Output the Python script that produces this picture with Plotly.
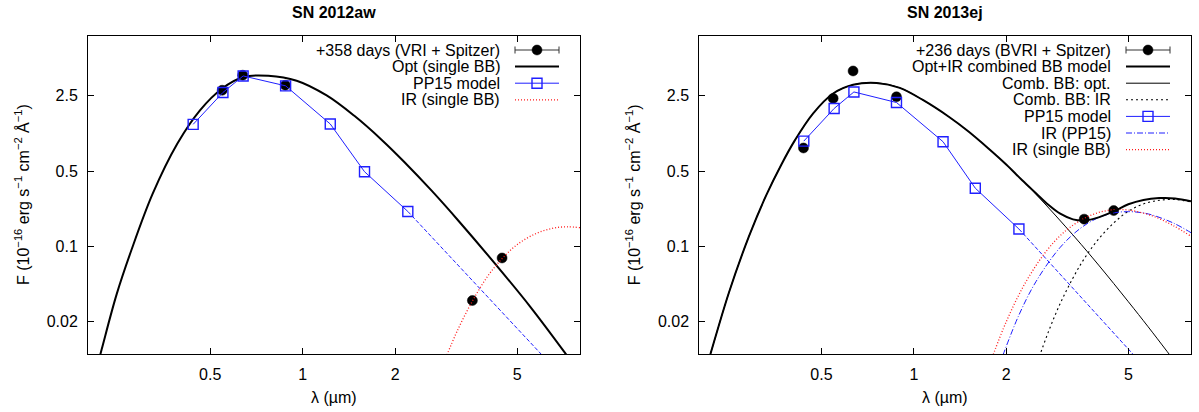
import math
import plotly.graph_objects as go

# ---------------- SN 2012aw (+358 d) ----------------
aw_obs_wl = [0.547, 0.638, 0.878, 3.57, 4.46]
aw_obs_flux = [2.82, 3.89, 3.14, 0.0314, 0.078]

aw_pp15_wl = [0.44, 0.55, 0.64, 0.88, 1.23, 1.59, 2.2]
aw_pp15_flux = [1.36, 2.69, 3.83, 3.10, 1.37, 0.494, 0.211]
aw_pp15_ext_wl = [2.2, 8.0]
aw_pp15_ext_flux = [0.211, 0.0041]

aw_opt_wl = [0.2, 0.2215, 0.248, 0.277, 0.3246, 0.391, 0.463, 0.547, 0.641, 0.773, 0.956,
             1.197, 1.47, 1.81, 2.147, 2.63, 3.21, 4.27, 5.52, 7.14, 7.96]
aw_opt_flux = [0.0036, 0.011, 0.036, 0.0925, 0.307, 0.903, 1.837, 2.93, 3.747, 3.85, 3.46,
               2.525, 1.64, 0.975, 0.605, 0.329, 0.174, 0.0669, 0.0273, 0.0103, 0.0067]

aw_ir_wl = [2.9, 3.2, 3.57, 4.0, 4.46, 5.0, 5.7, 6.5, 7.25, 8.0]
aw_ir_flux = [0.0087, 0.0168, 0.031, 0.0526, 0.077, 0.104, 0.130, 0.147, 0.152, 0.149]

# ---------------- SN 2013ej (+236 d) ----------------
ej_obs_wl = [0.437, 0.546, 0.634, 0.878, 3.59, 4.48]
ej_obs_flux = [0.82, 2.37, 4.26, 2.45, 0.179, 0.215]

ej_pp15_wl = [0.438, 0.55, 0.638, 0.878, 1.245, 1.586, 2.20]
ej_pp15_flux = [0.95, 1.91, 2.72, 2.17, 0.938, 0.347, 0.145]
ej_pp15_ext_wl = [2.2, 8.0]
ej_pp15_ext_flux = [0.145, 0.00255]

ej_opt_wl = [0.212, 0.2177, 0.25, 0.29, 0.33, 0.37, 0.41, 0.47, 0.546, 0.634, 0.756,
             0.90, 1.07, 1.3, 1.5, 1.75, 2.0, 2.51, 3.345, 4.0, 5.0, 5.8, 6.68, 8.0]
ej_opt_flux = [0.0078, 0.0101, 0.0375, 0.123, 0.296, 0.574, 0.97, 1.72, 2.63, 3.17, 3.30,
               2.97, 2.29, 1.60, 1.18, 0.813, 0.575, 0.301, 0.122, 0.067, 0.0306, 0.0179, 0.0106, 0.0054]

ej_comb_wl = [0.212, 0.2177, 0.25, 0.29, 0.33, 0.37, 0.41, 0.47, 0.546, 0.634, 0.756,
              0.90, 1.07, 1.3, 1.5, 1.75, 2.0, 2.25, 2.5, 2.75, 3.0, 3.3, 3.6, 4.0, 4.5,
              5.0, 5.6, 6.3, 7.1, 8.0]
ej_comb_flux = [0.0078, 0.0101, 0.0375, 0.123, 0.296, 0.574, 0.97, 1.72, 2.63, 3.17, 3.30,
                2.97, 2.29, 1.60, 1.18, 0.813, 0.577, 0.414, 0.312, 0.242, 0.201, 0.178, 0.174,
                0.186, 0.213, 0.246, 0.270, 0.281, 0.279, 0.262]

ej_ircomb_wl = [2.5, 2.75, 3.0, 3.3, 3.6, 4.0, 4.5, 5.0, 5.6, 6.3, 7.1, 8.0]
ej_ircomb_flux = [0.0077, 0.0163, 0.0295, 0.0509, 0.0776, 0.117, 0.167, 0.212, 0.248,
                  0.268, 0.272, 0.259]

ej_irpp15_wl = [1.95, 2.2, 2.5, 3.0, 3.5, 4.0, 4.5, 5.0, 5.5, 6.0, 7.0, 8.0]
ej_irpp15_flux = [0.0097, 0.023, 0.047, 0.098, 0.148, 0.185, 0.205, 0.21, 0.206, 0.195, 0.165, 0.134]

ej_irbb_wl = [1.8, 2.0, 2.3, 2.7, 3.1, 3.59, 4.0, 4.48, 5.0, 6.0, 7.0, 8.0]
ej_irbb_flux = [0.0093, 0.0199, 0.045, 0.090, 0.137, 0.182, 0.206, 0.219, 0.2175, 0.1915, 0.156, 0.124]

# ticks
x_ticks = [0.5, 1, 2, 5]
x_ticktext = ["0.5", "1", "2", "5"]
y_ticks = [0.02, 0.1, 0.5, 2.5]
y_ticktext = ["0.02", "0.1", "0.5", "2.5"]

titles = ["SN 2012aw", "SN 2013ej"]
legend_aw = ["+358 days (VRI + Spitzer)", "Opt (single BB)", "PP15 model", "IR (single BB)"]
legend_ej = ["+236 days (BVRI + Spitzer)", "Opt+IR combined BB model", "Comb. BB: opt.",
             "Comb. BB: IR", "PP15 model", "IR (PP15)", "IR (single BB)"]

FONT = "Liberation Sans, Arial, Helvetica, sans-serif"
BLUE = "#1f1fff"
RED = "#ff1a1a"

W, H = 1199, 412
ML, MR, MT, MB = 88, 8, 36, 58
PW = W - ML - MR
PH = H - MT - MB


def px_x(px):
    return (px - ML) / PW


def px_y(py):
    return (H - MB - py) / PH


panels = [(88, 580), (699.3, 1191)]

fig = go.Figure()


def curve(x, y, xa, ya, color, width, dash="solid", smooth=True):
    fig.add_trace(go.Scatter(
        x=x, y=y, mode="lines", xaxis=xa, yaxis=ya, showlegend=False, hoverinfo="skip",
        line=dict(color=color, width=width, dash=dash,
                  shape="spline" if smooth else "linear", smoothing=1.0),
    ))


def points(x, y, xa, ya):
    fig.add_trace(go.Scatter(
        x=x, y=y, mode="markers", xaxis=xa, yaxis=ya, showlegend=False,
        marker=dict(symbol="circle", size=10, color="black", line=dict(color="black", width=0.5)),
    ))


def pp15(x, y, xa, ya):
    fig.add_trace(go.Scatter(
        x=x, y=y, mode="lines+markers", xaxis=xa, yaxis=ya, showlegend=False,
        line=dict(color=BLUE, width=1),
        marker=dict(symbol="square-open", size=10, color=BLUE, line=dict(color=BLUE, width=1.4)),
    ))


DOT_RED = "1px,2px"
DOT_BLACK = "2px,3px"
DASH_BLUE = "4px,2px"
DASHDOT_BLUE = "6px,2px,1px,2px"

# SN 2012aw panel
points(aw_obs_wl, aw_obs_flux, "x", "y")
curve(aw_opt_wl, aw_opt_flux, "x", "y", "black", 2)
curve(aw_pp15_ext_wl, aw_pp15_ext_flux, "x", "y", BLUE, 1, DASH_BLUE, smooth=False)
pp15(aw_pp15_wl, aw_pp15_flux, "x", "y")
curve(aw_ir_wl, aw_ir_flux, "x", "y", RED, 1.3, DOT_RED)

# SN 2013ej panel
points(ej_obs_wl, ej_obs_flux, "x2", "y2")
curve(ej_opt_wl, ej_opt_flux, "x2", "y2", "black", 1)
curve(ej_ircomb_wl, ej_ircomb_flux, "x2", "y2", "black", 1.1, DOT_BLACK)
curve(ej_pp15_ext_wl, ej_pp15_ext_flux, "x2", "y2", BLUE, 1, DASH_BLUE, smooth=False)
curve(ej_irpp15_wl, ej_irpp15_flux, "x2", "y2", BLUE, 1, DASHDOT_BLUE)
curve(ej_irbb_wl, ej_irbb_flux, "x2", "y2", RED, 1.3, DOT_RED)
curve(ej_comb_wl, ej_comb_flux, "x2", "y2", "black", 2)
pp15(ej_pp15_wl, ej_pp15_flux, "x2", "y2")

axis_common = dict(
    type="log", showgrid=False, zeroline=False, showline=True, linecolor="black", linewidth=1,
    mirror="ticks", ticks="inside", ticklen=6, tickwidth=1, tickcolor="black",
    tickfont=dict(family=FONT, size=16, color="black"),
)
xr = [math.log10(0.2), math.log10(8.0)]
yr = [math.log10(0.01), math.log10(9.0)]

layout = dict(
    width=W, height=H, margin=dict(l=ML, r=MR, t=MT, b=MB),
    paper_bgcolor="white", plot_bgcolor="white",
    font=dict(family=FONT, size=16, color="black"),
    xaxis=dict(domain=[px_x(panels[0][0]), px_x(panels[0][1])], anchor="y", range=xr,
               tickvals=x_ticks, ticktext=x_ticktext, ticklabelstandoff=6, **axis_common),
    yaxis=dict(domain=[0, 1], anchor="x", range=yr,
               tickvals=y_ticks, ticktext=y_ticktext, ticklabelstandoff=6, **axis_common),
    xaxis2=dict(domain=[px_x(panels[1][0]), px_x(panels[1][1])], anchor="y2", range=xr,
                tickvals=x_ticks, ticktext=x_ticktext, ticklabelstandoff=6, **axis_common),
    yaxis2=dict(domain=[0, 1], anchor="x2", range=yr,
                tickvals=y_ticks, ticktext=y_ticktext, ticklabelstandoff=6, **axis_common),
    showlegend=False,
)
fig.update_layout(**layout)

annotations = []
shapes = []
ylabel = "F (10<sup>−16</sup> erg s<sup>−1</sup> cm<sup>−2</sup> Å<sup>−1</sup>)"

for i, (x0, x1) in enumerate(panels):
    cx = (x0 + x1) / 2
    annotations.append(dict(text="<b>" + titles[i] + "</b>", x=px_x(cx), y=px_y(12.5),
                            xref="paper", yref="paper", showarrow=False,
                            xanchor="center", yanchor="middle",
                            font=dict(family=FONT, size=16, color="black")))
    annotations.append(dict(text="λ (µm)", x=px_x(cx), y=px_y(397), xref="paper", yref="paper",
                            showarrow=False, xanchor="center", yanchor="middle",
                            font=dict(family=FONT, size=16, color="black")))
    annotations.append(dict(text=ylabel, x=px_x(x0 - 66), y=px_y(195), xref="paper", yref="paper",
                            showarrow=False, textangle=-90, xanchor="center", yanchor="middle",
                            font=dict(family=FONT, size=16, color="black")))

# key: text right-aligned, sample to its right
ROW0, DROW = 50, 16.6


def key_line(xa, xb, y, color, width, dash="solid"):
    shapes.append(dict(type="line", xref="paper", yref="paper",
                       x0=px_x(xa), x1=px_x(xb), y0=px_y(y), y1=px_y(y),
                       line=dict(color=color, width=width, dash=dash)))


def key_marker(xc, y, kind, color):
    shapes.append(dict(type="circle" if kind == "circle" else "rect",
                       xref="paper", yref="paper", xsizemode="pixel", ysizemode="pixel",
                       xanchor=px_x(xc), yanchor=px_y(y), x0=-5, x1=5, y0=-5, y1=5,
                       fillcolor=color if kind == "circle" else "rgba(0,0,0,0)",
                       line=dict(color=color, width=1.4 if kind != "circle" else 0.5)))


styles_aw = ["obs", ("black", 2, "solid"), "pp15", (RED, 1.3, DOT_RED)]
styles_ej = ["obs", ("black", 2, "solid"), ("black", 1, "solid"), ("black", 1.1, DOT_BLACK),
             "pp15", (BLUE, 1, DASHDOT_BLUE), (RED, 1.3, DOT_RED)]

for (x0, x1), labels, styles in [(panels[0], legend_aw, styles_aw), (panels[1], legend_ej, styles_ej)]:
    tx = x1 - 78
    sa, sb = x1 - 65, x1 - 21
    sc = (sa + sb) / 2
    for k, (lab, st) in enumerate(zip(labels, styles)):
        y = ROW0 + k * DROW
        annotations.append(dict(text=lab, x=px_x(tx), y=px_y(y), xref="paper", yref="paper",
                                showarrow=False, xanchor="right", yanchor="middle",
                                font=dict(family=FONT, size=16, color="black")))
        if st == "obs":
            key_line(sa, sb, y, "#333333", 1)
            shapes.append(dict(type="line", xref="paper", yref="paper", x0=px_x(sa), x1=px_x(sa),
                               y0=px_y(y - 3.5), y1=px_y(y + 3.5), line=dict(color="#333333", width=1)))
            shapes.append(dict(type="line", xref="paper", yref="paper", x0=px_x(sb), x1=px_x(sb),
                               y0=px_y(y - 3.5), y1=px_y(y + 3.5), line=dict(color="#333333", width=1)))
            key_marker(sc, y, "circle", "black")
        elif st == "pp15":
            key_line(sa, sb, y, BLUE, 1)
            key_marker(sc, y, "square", BLUE)
        else:
            key_line(sa, sb, y, st[0], st[1], st[2])

fig.update_layout(annotations=annotations, shapes=shapes)
fig.write_html("out.html")
